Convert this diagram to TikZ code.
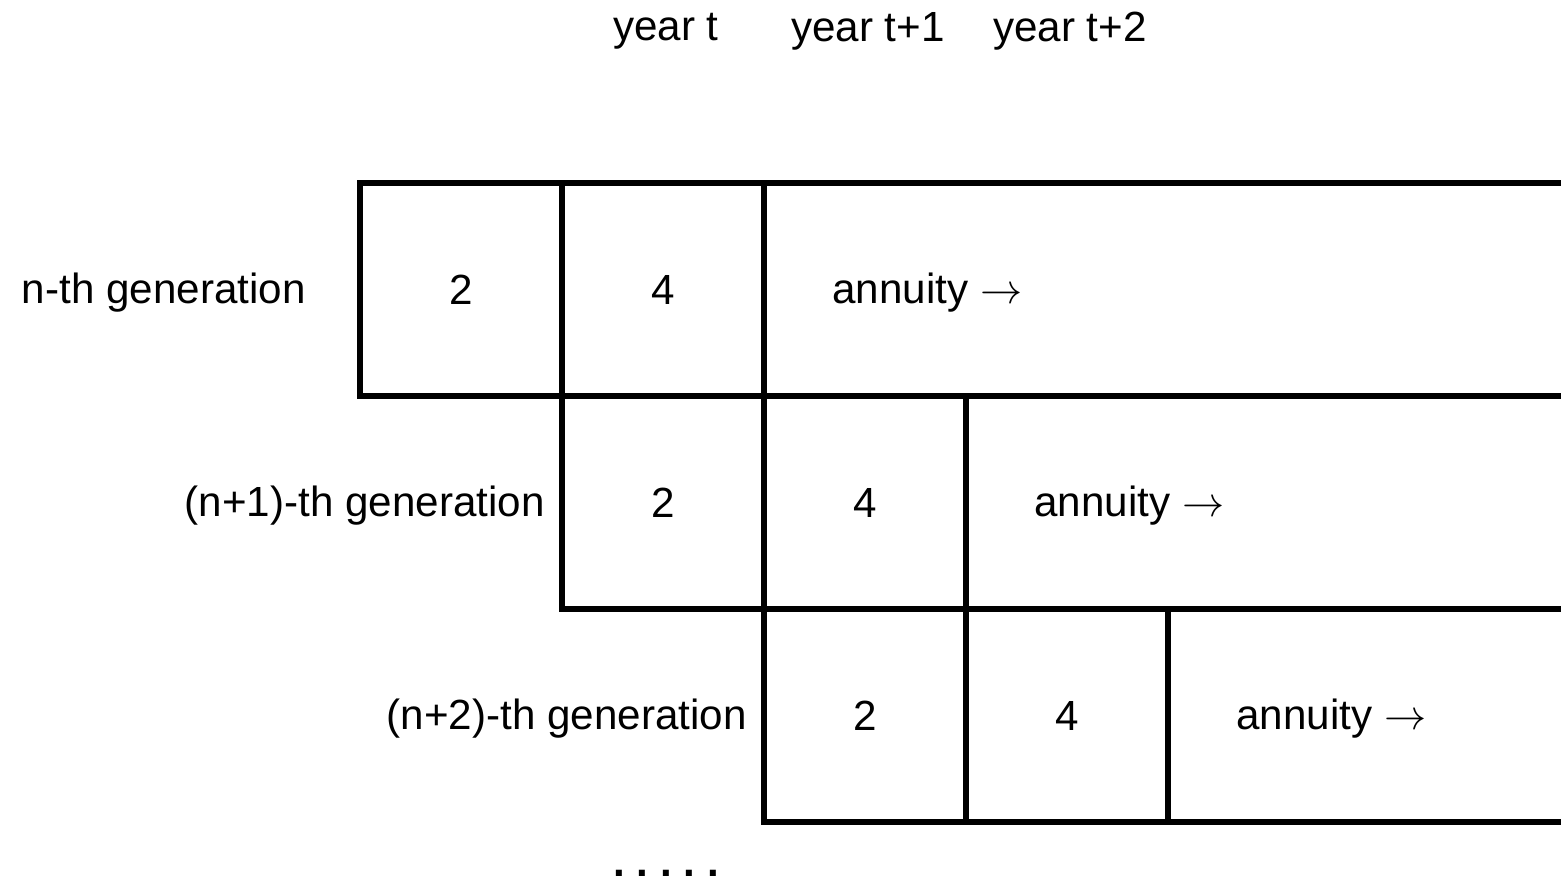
\documentclass[tikz,border=0pt]{standalone}
\usepackage{fontspec}
\setmainfont{Liberation Sans}
\usetikzlibrary{positioning}

\begin{document}
\begin{tikzpicture}[font=\fontsize{12}{14.4}\selectfont,
        cell/.style={draw,line width=1.6pt,outer sep=0pt,inner sep=0pt,
          minimum width=2.02cm,minimum height=2.13cm},
        lbl/.style={yshift=-0.03cm}]
        \useasboundingbox (0,0) rectangle (15.61,-8.83);
        \clip (0,0) rectangle (15.61,-8.83);
        % years on top
        \foreach \k/\yr in {0/t,1/t+1,2/t+2}{
          \node (yr\k) at ({6.66+2.02*\k},-0.31) {year \yr};}
        % one row per generation
        \foreach \i/\g/\gap in {0/n/0.42cm,1/(n+1)/0.05cm,2/(n+2)/0.05cm}{
          \node[cell] (two\i) at ({4.61+2.02*\i},{-2.895-2.13*\i}) {2};
          \node[cell,right=0pt of two\i] (four\i) {4};
          \draw[line width=1.6pt] (four\i.north east) rectangle ++(9,-2.13);
          \node[lbl,left=\gap of two\i] (gen\i) {\g-th generation};
          \node[lbl,right=0.56cm of four\i] (ann\i) {annuity $\rightarrow$};
        }
        \node[inner sep=0pt] (dots) at (6.66,-8.73) {\textbf{.\ .\ .\ .\ .}};
    \end{tikzpicture}
\end{document}
